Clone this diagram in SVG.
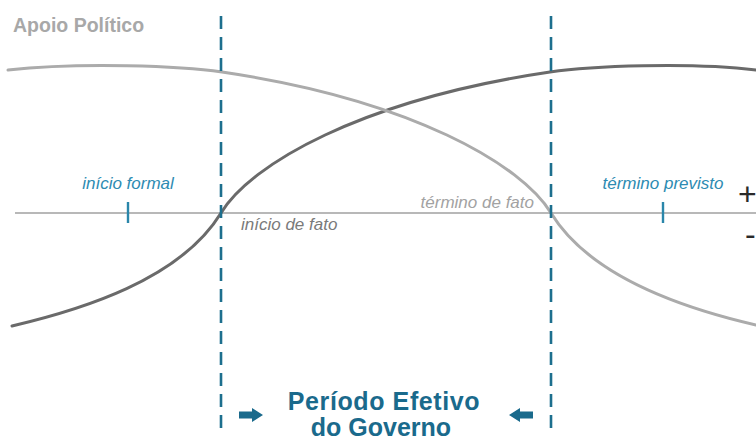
<svg xmlns="http://www.w3.org/2000/svg" width="756" height="440" viewBox="0 0 756 440">
<style>
.curve{fill:none;stroke-width:3;stroke-linecap:round}
.dark{stroke:#6a6a6a}
.light{stroke:#ababab}
.axis{stroke:#b8b8b8;stroke-width:2}
.dash{stroke:#1d6f8e;stroke-width:2.6;stroke-dasharray:13 8;fill:none}
.tick{stroke:#2a86aa;stroke-width:2.4}
.lbl{font-family:"Liberation Sans",Arial,sans-serif;font-style:italic;font-size:17px}
.teal{fill:#2d8bb2}
.title{font-family:"Liberation Sans",Arial,sans-serif;font-weight:bold;font-size:19.5px;fill:#a8a8a8}
.period{font-family:"Liberation Sans",Arial,sans-serif;font-weight:bold;font-size:25px;fill:#1a6a8c;text-anchor:middle}
.sign{font-family:"Liberation Sans",Arial,sans-serif;font-size:32px;fill:#2a2a2a}
.arrow{fill:#1a6a8c}
</style>
<rect width="756" height="440" fill="#ffffff"/>
<g id="title"><text class="title" x="13" y="32">Apoio Político</text></g>
<g id="axis">
<line class="axis" x1="15" y1="213" x2="756" y2="213"/>
</g>
<g id="connectors">
<path id="curve-dark" class="curve dark" d="M12,326 C80,310 180,280 221,213 C250,165 360,100 550,72 C590,66 690,62 756,70"/>
<path id="curve-light" class="curve light" d="M756,325 C691,310 592,280 551,213 C522,165 412,100 222,72 C182,66 81,62 8,70"/>
<line class="dash" x1="221" y1="16" x2="221" y2="428"/>
<line class="dash" x1="551" y1="16" x2="551" y2="428"/>
</g>
<g id="inicio-formal">
<line class="tick" x1="128" y1="202" x2="128" y2="223"/>
<text class="lbl teal" x="128" y="189" text-anchor="middle">início formal</text>
</g>
<g id="termino-previsto">
<line class="tick" x1="663" y1="202" x2="663" y2="223"/>
<text class="lbl teal" x="663" y="189" text-anchor="middle">término previsto</text>
</g>
<g id="inicio-de-fato"><text class="lbl" x="241" y="230" fill="#7a7a7a">início de fato</text></g>
<g id="termino-de-fato"><text class="lbl" x="534" y="208" fill="#a2a2a2" text-anchor="end">término de fato</text></g>
<g id="signs">
<text class="sign" x="738" y="205">+</text>
<text class="sign" x="745" y="245">-</text>
</g>
<g id="periodo">
<polygon class="arrow" points="239,411.5 252,411.5 252,408 263,415 252,422 252,418.5 239,418.5"/>
<polygon class="arrow" points="533,411.5 520,411.5 520,408 509,415 520,422 520,418.5 533,418.5"/>
<text class="period" x="384" y="410" letter-spacing="0.6">Período Efetivo</text>
<text class="period" x="381" y="436">do Governo</text>
</g>
</svg>
